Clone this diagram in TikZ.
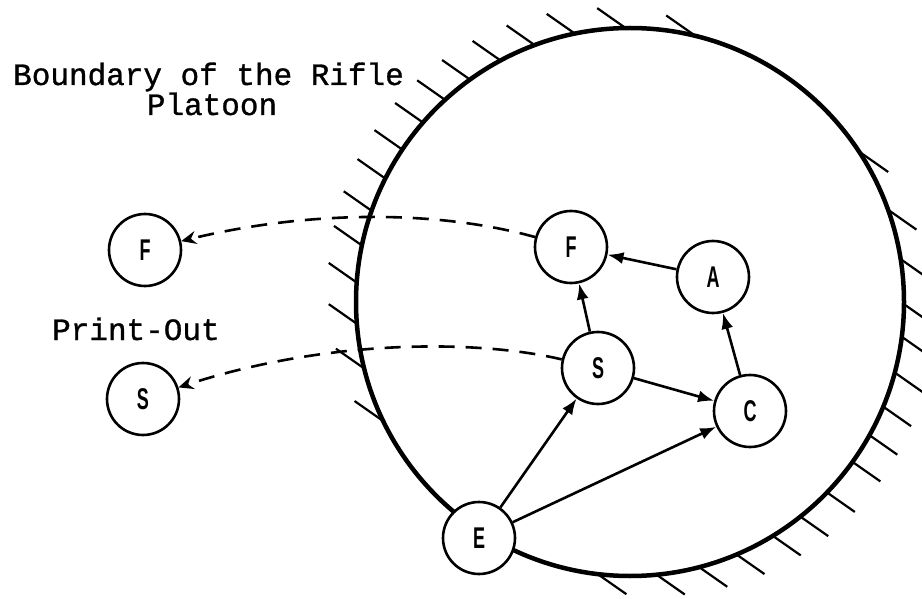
\documentclass[tikz,border=0pt]{standalone}
\usepackage{fontspec}
\usetikzlibrary{arrows.meta,calc}
\newfontfamily\typewriter[FakeBold=1]{Liberation Mono}
\newfontfamily\labelfont{Liberation Sans}
\newcommand\unitname[1]{\scalebox{0.6}[1]{#1}}
\tikzset{
  unit/.style={circle, draw, line width=2.6pt, fill=white, minimum size=72pt,
    inner sep=0pt, font=\labelfont\bfseries\fontsize{30}{30}\selectfont},
  link/.style={line width=2.6pt, -{Latex[length=16pt,width=12pt]}},
  report/.style={line width=2.6pt, dash pattern=on 16pt off 11pt,
    -{Stealth[length=15pt,width=13pt,inset=5pt]}},
  hatch/.style={line width=2.2pt},
  rim/.style={line width=4.5pt},
  note/.style={font=\typewriter\fontsize{31}{31}\selectfont, inner sep=0pt},
}
\begin{document}
\begin{tikzpicture}[x=1pt,y=-1pt]
  \useasboundingbox (0,0) rectangle (922,599);

  % platoon boundary with outward hatching
  \coordinate (O) at (630,302);
  \draw[rim] (O) circle[radius=274];
  \foreach \a in {-125.8,-132.5,-139.1,-146.2,-153.2,-160.5,-168,-175.8,
                  -184.4,-193.8,-205.4,-118.3,-110.5,-101.8,-91.2,-76.7}
    \draw[hatch] ($(O)+(\a:275)$) -- ++(215:33);
  \foreach \a in {-32.8,-19.4,-8.8,0.6,7.4,15,22.5,29.1,35.7,44,51.5,
                  58.5,67,75.2,84.2,96.4}
    \draw[hatch] ($(O)+(\a:275)$) -- ++(35:33);

  % labels
  \node[note, anchor=base west] (title1) at (13,85) {Boundary of the Rifle};
  \node[note, anchor=base] (title2) at (212,115) {Platoon};
  \node[note, anchor=base west] (printout) at (52,340) {Print-Out};

  % units
  \node[unit] (Fl) at (145,250) {\unitname{F}};
  \node[unit] (Sl) at (143,399) {\unitname{S}};
  \node[unit] (F)  at (571,247) {\unitname{F}};
  \node[unit] (A)  at (713,277) {\unitname{A}};
  \node[unit] (S)  at (598,368) {\unitname{S}};
  \node[unit] (C)  at (750,411) {\unitname{C}};
  \node[unit] (E)  at (479,538) {\unitname{E}};

  % internal links
  \draw[link] (A) -- (F);
  \draw[link] (S) -- (F);
  \draw[link] (S) -- (C);
  \draw[link] (C) -- (A);
  \draw[link] (E) -- (S);
  \draw[link] (E) -- (C);

  % print-out links
  \draw[report] (F) .. controls (430,208) and (300,212) .. (Fl);
  \draw[report] (S) .. controls (480,340) and (330,338) .. (Sl);
\end{tikzpicture}
\end{document}
